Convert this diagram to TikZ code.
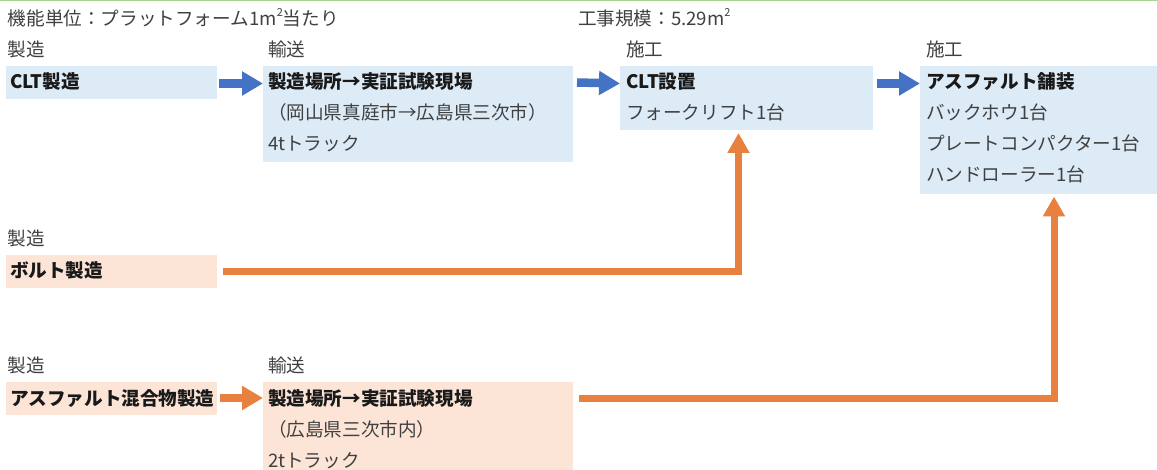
\documentclass[tikz,border=0pt]{standalone}
\usepackage{fontspec}
\setmainfont{Noto Sans CJK JP}
\usetikzlibrary{arrows.meta}
\definecolor{bluefill}{HTML}{DDEBF7}
\definecolor{orfill}{HTML}{FCE4D6}
\definecolor{bluearr}{HTML}{4472C4}
\definecolor{orarr}{HTML}{E8803F}
\definecolor{txt}{HTML}{404040}
\definecolor{topline}{HTML}{A9D18E}
\newcommand{\supsq}{\raisebox{0.5em}{\fontsize{11}{11}\selectfont 2}}
\begin{document}
\begin{tikzpicture}[x=1pt,y=-1pt,
  every node/.style={inner sep=0pt, outer sep=0pt},
  box/.style={anchor=north west},
  bbox/.style={box, fill=bluefill},
  obox/.style={box, fill=orfill},
  lbl/.style={anchor=base west, text=txt, font=\fontsize{18.6}{22}\selectfont},
  btxt/.style={anchor=base west, text=black!90, font=\fontsize{18.6}{22}\selectfont\bfseries},
  blockarr/.style={line width=8.5pt, -{Triangle[width=23pt,length=21pt]}},
  conn/.style={line width=7pt, line join=miter, orarr, -{Triangle[width=21pt,length=20pt]}}]
\useasboundingbox (0,0) rectangle (1157,470);
\fill[topline] (0,0) rectangle (1157,1.5);

% headings
\node[lbl] (fu) at (8,26) {機能単位：プラットフォーム1m\supsq 当たり};
\node[lbl] (scale) at (578,26) {工事規模：5.29m\supsq};
\node[lbl] (h1) at (8,57) {製造};
\node[lbl] (h2) at (268,57) {輸送};
\node[lbl] (h3) at (626,57) {施工};
\node[lbl] (h4) at (926,57) {施工};
\node[lbl] (h5) at (8,246) {製造};
\node[lbl] (h6) at (8,373) {製造};
\node[lbl] (h7) at (268,373) {輸送};

% boxes
\node[bbox, minimum width=211pt, minimum height=33pt] (cltm) at (6,66) {};
\node[bbox, minimum width=310pt, minimum height=96pt] (tr1) at (263,66) {};
\node[bbox, minimum width=253pt, minimum height=64pt] (cltset) at (620,66) {};
\node[bbox, minimum width=237pt, minimum height=128pt] (asph) at (920,66) {};
\node[obox, minimum width=211pt, minimum height=33pt] (bolt) at (6,255) {};
\node[obox, minimum width=211pt, minimum height=33pt] (mix) at (6,382) {};
\node[obox, minimum width=310pt, minimum height=88pt] (tr2) at (263,382) {};

% box texts
\node[btxt] (t1) at (10,89) {CLT製造};
\node[btxt] (t2) at (268,89) {製造場所→実証試験現場};
\node[lbl] (t3) at (268,120) {（岡山県真庭市→広島県三次市）};
\node[lbl] (t4) at (268,151) {4tトラック};
\node[btxt] (t5) at (626,89) {CLT設置};
\node[lbl] (t6) at (626,120) {フォークリフト1台};
\node[btxt] (t7) at (926,89) {アスファルト舗装};
\node[lbl] (t8) at (926,120) {バックホウ1台};
\node[lbl] (t9) at (926,151) {プレートコンパクター1台};
\node[lbl] (t10) at (926,182) {ハンドローラー1台};
\node[btxt] (t11) at (10,278) {ボルト製造};
\node[btxt] (t12) at (10,405) {アスファルト混合物製造};
\node[btxt] (t13) at (268,405) {製造場所→実証試験現場};
\node[lbl] (t14) at (268,436) {（広島県三次市内）};
\node[lbl] (t15) at (268,467) {2tトラック};

% block arrows
\draw[blockarr, bluearr] ([xshift=2pt,yshift=-1pt]cltm.east) -- ([yshift=-1pt]cltm.east -| tr1.west);
\draw[blockarr, bluearr] ([xshift=4pt]tr1.east |- cltm.east) -- ([yshift=-1pt]cltm.east -| cltset.west);
\draw[blockarr, bluearr] ([xshift=4pt,yshift=-1pt]cltset.east |- cltm.east) -- ([yshift=-1pt]cltm.east -| asph.west);
\draw[blockarr, orarr] ([xshift=3pt,yshift=0.5pt]mix.east) -- ([yshift=0.5pt]mix.east -| tr2.west);

% connectors
\coordinate (c1) at (738.5,133);
\coordinate (c2) at (1054,196.5);
\draw[conn] ([xshift=6pt,yshift=-0.5pt]bolt.east) -| (c1);
\draw[conn] ([xshift=6pt]tr2.east |- mix.east) -| (c2);
\end{tikzpicture}
\end{document}
